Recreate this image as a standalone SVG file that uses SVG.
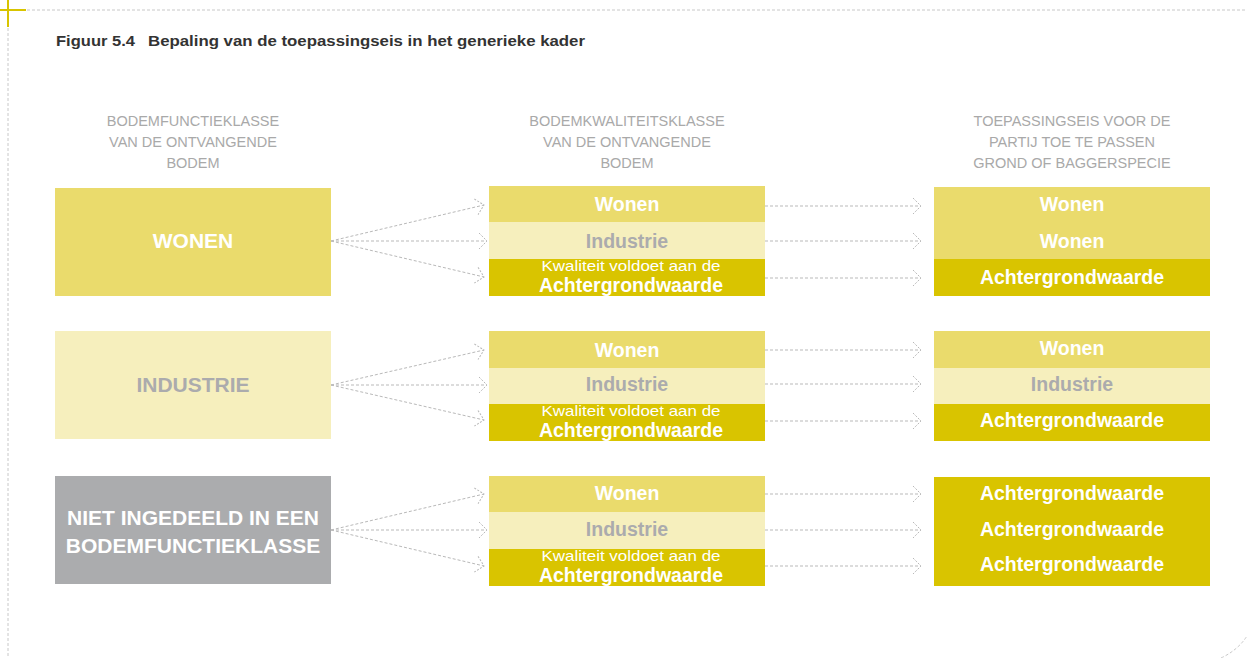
<svg xmlns="http://www.w3.org/2000/svg" width="1247" height="658" viewBox="0 0 1247 658">
<defs>
<style>
.frame{fill:none;stroke:#c8c8c8;stroke-width:1;stroke-dasharray:3 2}
.cross{stroke:#d8c400;stroke-width:2}
.title{font-family:"Liberation Sans",Arial,sans-serif;font-weight:bold;font-size:15px;fill:#333}
.hdr{font-family:"Liberation Sans",Arial,sans-serif;font-size:14.5px;fill:#a9a9a9;text-anchor:middle}
.big{font-family:"Liberation Sans",Arial,sans-serif;font-weight:bold;font-size:21px;text-anchor:middle}
.lbl{font-family:"Liberation Sans",Arial,sans-serif;font-weight:bold;font-size:19.5px;text-anchor:middle}
.sm{font-family:"Liberation Sans",Arial,sans-serif;font-size:15px;text-anchor:middle;fill:#fff}
.w{fill:#fff}
.g{fill:#ababad}
.c1{fill:#eadb6c}
.c2{fill:#f6efbd}
.c3{fill:#d9c400}
.c4{fill:#abacae}
.con{fill:none;stroke:#b9b9b9;stroke-width:1;stroke-dasharray:3 2}
</style>
<marker id="chev" markerUnits="userSpaceOnUse" viewBox="-10 -10 12 20" markerWidth="12" markerHeight="20" refX="0" refY="0" orient="auto">
<path d="M-8,-8 L0,0 L-8,8" fill="none" stroke="#b9b9b9" stroke-width="1" stroke-dasharray="2 1.5"/>
</marker>
</defs>
<rect width="1247" height="658" fill="#fff"/>
<g id="frame">
<line class="frame" x1="27" y1="10" x2="1247" y2="10"/>
<line class="frame" x1="8" y1="28" x2="8" y2="658"/>
<path class="frame" d="M1221,658 Q1238,650 1247,636"/>
<line class="cross" x1="0" y1="10" x2="26" y2="10"/>
<line class="cross" x1="8" y1="0" x2="8" y2="27"/>
</g>
<g id="title">
<text class="title" x="56" y="46" textLength="79" lengthAdjust="spacingAndGlyphs">Figuur 5.4</text>
<text class="title" x="148" y="46" textLength="437" lengthAdjust="spacingAndGlyphs">Bepaling van de toepassingseis in het generieke kader</text>
</g>
<g id="headers">
<text class="hdr" x="193" y="126">BODEMFUNCTIEKLASSE</text>
<text class="hdr" x="193" y="147">VAN DE ONTVANGENDE</text>
<text class="hdr" x="193" y="168">BODEM</text>
<text class="hdr" x="627" y="126">BODEMKWALITEITSKLASSE</text>
<text class="hdr" x="627" y="147">VAN DE ONTVANGENDE</text>
<text class="hdr" x="627" y="168">BODEM</text>
<text class="hdr" x="1072" y="126">TOEPASSINGSEIS VOOR DE</text>
<text class="hdr" x="1072" y="147">PARTIJ TOE TE PASSEN</text>
<text class="hdr" x="1072" y="168">GROND OF BAGGERSPECIE</text>
</g>
<g id="left-wonen">
<rect class="c1" x="55" y="188" width="276" height="108"/>
<text class="big w" x="193" y="248">WONEN</text>
</g>
<g id="left-industrie">
<rect class="c2" x="55" y="331" width="276" height="108"/>
<text class="big g" x="193" y="392">INDUSTRIE</text>
</g>
<g id="left-niet">
<rect class="c4" x="55" y="476" width="276" height="108"/>
<text class="big w" x="193" y="525">NIET INGEDEELD IN EEN</text>
<text class="big w" x="193" y="553">BODEMFUNCTIEKLASSE</text>
</g>
<g id="mid-1">
<rect class="c1" x="489" y="186" width="276" height="36"/>
<rect class="c2" x="489" y="222" width="276" height="37"/>
<rect class="c3" x="489" y="259" width="276" height="37"/>
<text class="lbl w" x="627" y="211">Wonen</text>
<text class="lbl g" x="627" y="248">Industrie</text>
<text class="sm" x="631" y="271" textLength="179" lengthAdjust="spacingAndGlyphs">Kwaliteit voldoet aan de</text>
<text class="lbl w" x="631" y="291.5">Achtergrondwaarde</text>
</g>
<g id="mid-2">
<rect class="c1" x="489" y="331" width="276" height="37"/>
<rect class="c2" x="489" y="368" width="276" height="36"/>
<rect class="c3" x="489" y="404" width="276" height="37"/>
<text class="lbl w" x="627" y="357">Wonen</text>
<text class="lbl g" x="627" y="391">Industrie</text>
<text class="sm" x="631" y="416" textLength="179" lengthAdjust="spacingAndGlyphs">Kwaliteit voldoet aan de</text>
<text class="lbl w" x="631" y="436.5">Achtergrondwaarde</text>
</g>
<g id="mid-3">
<rect class="c1" x="489" y="476" width="276" height="36"/>
<rect class="c2" x="489" y="512" width="276" height="37"/>
<rect class="c3" x="489" y="549" width="276" height="37"/>
<text class="lbl w" x="627" y="500">Wonen</text>
<text class="lbl g" x="627" y="536">Industrie</text>
<text class="sm" x="631" y="561" textLength="179" lengthAdjust="spacingAndGlyphs">Kwaliteit voldoet aan de</text>
<text class="lbl w" x="631" y="581.5">Achtergrondwaarde</text>
</g>
<g id="right-1">
<rect class="c1" x="934" y="187" width="276" height="72"/>
<rect class="c3" x="934" y="259" width="276" height="37"/>
<text class="lbl w" x="1072" y="211">Wonen</text>
<text class="lbl w" x="1072" y="248">Wonen</text>
<text class="lbl w" x="1072" y="284">Achtergrondwaarde</text>
</g>
<g id="right-2">
<rect class="c1" x="934" y="331" width="276" height="37"/>
<rect class="c2" x="934" y="368" width="276" height="36"/>
<rect class="c3" x="934" y="404" width="276" height="37"/>
<text class="lbl w" x="1072" y="355">Wonen</text>
<text class="lbl g" x="1072" y="391">Industrie</text>
<text class="lbl w" x="1072" y="427">Achtergrondwaarde</text>
</g>
<g id="right-3">
<rect class="c3" x="934" y="477" width="276" height="109"/>
<text class="lbl w" x="1072" y="500">Achtergrondwaarde</text>
<text class="lbl w" x="1072" y="536">Achtergrondwaarde</text>
<text class="lbl w" x="1072" y="571">Achtergrondwaarde</text>
</g>
<g id="connectors">
<line class="con" x1="331" y1="241" x2="484" y2="205" marker-end="url(#chev)"/>
<line class="con" x1="331" y1="241" x2="487" y2="241" marker-end="url(#chev)"/>
<line class="con" x1="331" y1="241" x2="484" y2="277" marker-end="url(#chev)"/>
<line class="con" x1="331" y1="385" x2="484" y2="350" marker-end="url(#chev)"/>
<line class="con" x1="331" y1="385" x2="487" y2="385" marker-end="url(#chev)"/>
<line class="con" x1="331" y1="385" x2="484" y2="420" marker-end="url(#chev)"/>
<line class="con" x1="331" y1="530" x2="484" y2="494" marker-end="url(#chev)"/>
<line class="con" x1="331" y1="530" x2="487" y2="530" marker-end="url(#chev)"/>
<line class="con" x1="331" y1="530" x2="484" y2="566" marker-end="url(#chev)"/>
<line class="con" x1="765" y1="206" x2="921" y2="206" marker-end="url(#chev)"/>
<line class="con" x1="765" y1="241" x2="921" y2="241" marker-end="url(#chev)"/>
<line class="con" x1="765" y1="278" x2="921" y2="278" marker-end="url(#chev)"/>
<line class="con" x1="765" y1="350" x2="921" y2="350" marker-end="url(#chev)"/>
<line class="con" x1="765" y1="384" x2="921" y2="384" marker-end="url(#chev)"/>
<line class="con" x1="765" y1="421" x2="921" y2="421" marker-end="url(#chev)"/>
<line class="con" x1="765" y1="494" x2="921" y2="494" marker-end="url(#chev)"/>
<line class="con" x1="765" y1="530" x2="921" y2="530" marker-end="url(#chev)"/>
<line class="con" x1="765" y1="566" x2="921" y2="566" marker-end="url(#chev)"/>
</g>
</svg>
